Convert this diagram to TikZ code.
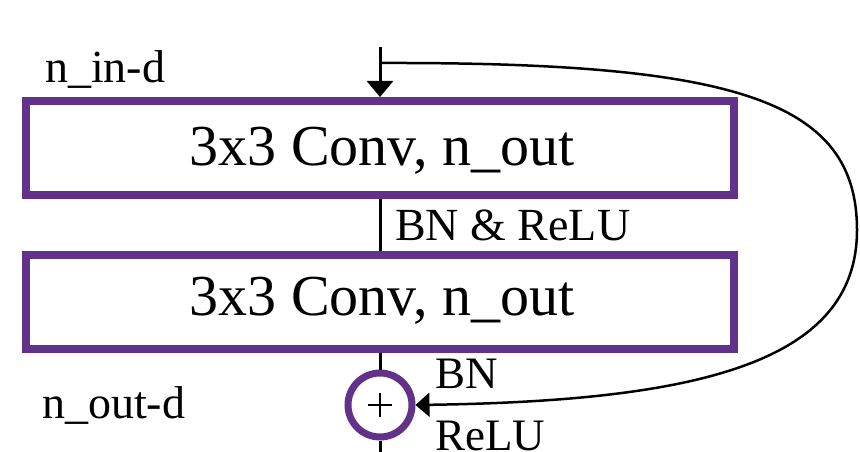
\documentclass[tikz,border=0pt]{standalone}
\usepackage{fontspec}
\setmainfont{Liberation Serif}
\usetikzlibrary{arrows.meta}
\definecolor{boxpurple}{RGB}{98,50,138}
\tikzset{
  convbox/.style={draw=boxpurple, line width=8pt, fill=white, minimum width=708pt, minimum height=94pt, inner sep=0pt},
  boxtext/.style={anchor=base, inner sep=0pt, font=\fontsize{58pt}{60pt}\selectfont},
  labtext/.style={anchor=base west, inner sep=0pt, font=\fontsize{46pt}{48pt}\selectfont},
  smalllab/.style={anchor=base west, inner sep=0pt, font=\fontsize{45pt}{47pt}\selectfont},
  sumnode/.style={circle, draw=boxpurple, line width=7pt, minimum size=64pt, inner sep=0pt},
  conn/.style={line width=3pt, black},
  arr/.style={line width=3pt, black, -{Triangle[length=16pt, width=26pt]}},
  skiparr/.style={line width=2.5pt, black, -{Triangle[length=14pt, width=24pt]}}
}
\begin{document}
\begin{tikzpicture}[x=1pt, y=-1pt]
\useasboundingbox (0,0) rectangle (860,452);
\node[convbox] (box1) at (380,148) {};
\node[convbox] (box2) at (380,301.5) {};
\node[boxtext] (t1) at (382,165) {3x3 Conv, n\_out};
\node[boxtext] (t2) at (382,315) {3x3 Conv, n\_out};
\node[sumnode] (sum) at (380,405) {};
\draw[line width=2pt] (sum.center) +(-12,0) -- +(12,0);
\draw[line width=2pt] (sum.center) +(0,-12) -- +(0,12);
\node[labtext] (nin) at (45,83) {n\_in-d};
\node[labtext] (nout) at (42,418) {n\_out-d};
\node[labtext] (bnrelu) at (395,240) {BN \& ReLU};
\node[smalllab] (bn) at (435,388) {BN};
\node[smalllab] (relu) at (435,450) {ReLU};
\coordinate (top) at (380,47);
\coordinate (junc) at (380,63);
\coordinate (bottom) at (380,460);
\draw[arr] (top) -- (box1.north);
\draw[conn] (box1.south) -- (box2.north);
\draw[conn] (box2.south) -- (sum.north);
\draw[conn] (sum.south) -- (bottom);
\draw[skiparr] (junc) .. controls (735,62) and (857,100) .. (857,230)
  .. controls (857,362) and (700,401) .. (sum.east);
\end{tikzpicture}
\end{document}
